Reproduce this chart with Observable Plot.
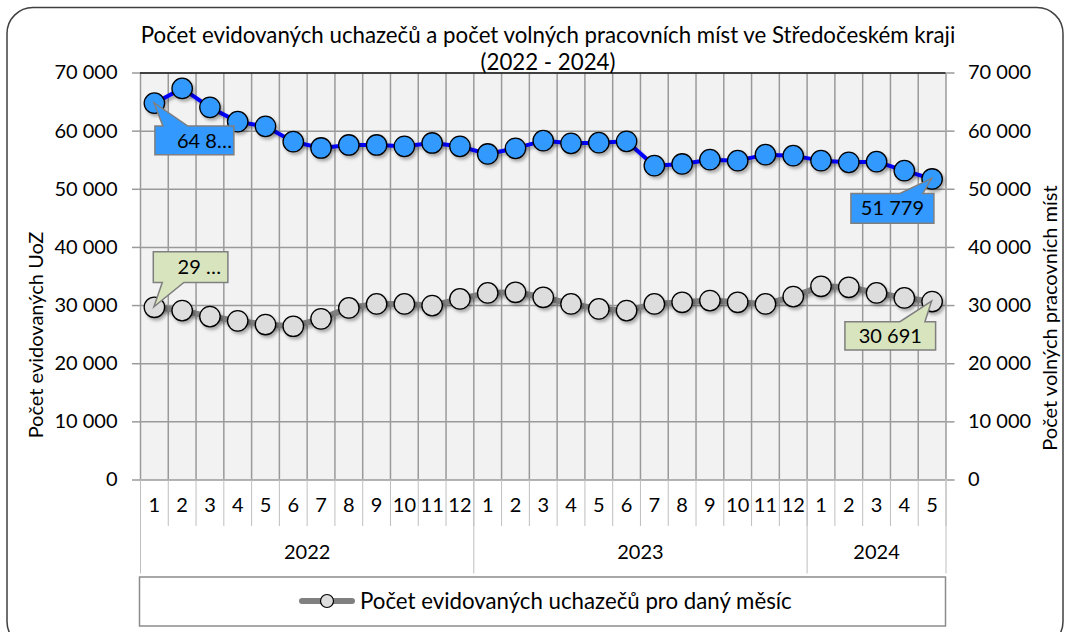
<!DOCTYPE html>
<html><head><meta charset="utf-8">
<script src="https://cdn.jsdelivr.net/npm/d3@7"></script>
<script src="https://cdn.jsdelivr.net/npm/@observablehq/plot@0.6"></script>
<style>
html,body{margin:0;padding:0;background:#fff;}
#chart{position:relative;width:1066px;height:632px;overflow:hidden;}
#chart svg{font-family:Lato,"Noto Sans",sans-serif;}
</style></head><body><div id="chart"></div>
<script>
// ---- data ----
const months = [1,2,3,4,5,6,7,8,9,10,11,12, 1,2,3,4,5,6,7,8,9,10,11,12, 1,2,3,4,5];
const years  = [2022,2022,2022,2022,2022,2022,2022,2022,2022,2022,2022,2022,
                2023,2023,2023,2023,2023,2023,2023,2023,2023,2023,2023,2023,
                2024,2024,2024,2024,2024];
const yearNames = [2022, 2023, 2024];
// Počet volných pracovních míst (blue)
const vacancies = [64812,67354,64088,61630,60823,58192,57108,57624,57624,57384,57968,57384,
                   56077,57040,58363,57900,58020,58243,54066,54358,55097,54925,55957,55785,
                   54925,54633,54754,53206,51779];
// Počet evidovaných uchazečů (grey)
const jobSeekers = [29706,29139,28107,27368,26732,26440,27712,29603,30290,30290,29998,31150,
                    32182,32285,31425,30290,29431,29139,30290,30565,30858,30565,30290,31545,
                    33316,33144,32182,31322,30691];
const yTicks = [0,10000,20000,30000,40000,50000,60000,70000];
const titleLines = ["Počet evidovaných uchazečů a počet volných pracovních míst ve Středočeském kraji", "(2022 - 2024)"];
const leftTitle = "Počet evidovaných UoZ";
const rightTitle = "Počet volných pracovních míst";
const legendLabel = "Počet evidovaných uchazečů pro daný měsíc";

// ---- helpers ----
const fmt = d3.formatLocale({decimal:",", thousands:"\u00a0", grouping:[3], currency:["",""]}).format(",d");
const rows = months.map((m,i)=>({i, x:i+0.5, month:m, year:years[i], vac:vacancies[i], seek:jobSeekers[i]}));
const yearGroups = yearNames.map(y => {
  const idx = rows.filter(r=>r.year===y).map(r=>r.i);
  return {year:y, start:d3.min(idx), end:d3.max(idx)+1};
});
const boundaries = d3.range(months.length+1);
const yearBounds = [0, ...yearGroups.map(g=>g.end)];

const W=1066, H=632, mL=140, mR=120.5, mT=72.5, mB=152.5;
const FS = 20;

const plot = Plot.plot({
  width: W, height: H,
  marginLeft: mL, marginRight: mR, marginTop: mT, marginBottom: mB,
  style: {fontFamily: "Lato, 'Noto Sans', sans-serif", fontSize: FS+"px", background: "transparent", overflow: "visible", color:"#000"},
  x: {type: "linear", domain: [0, months.length], axis: null},
  y: {domain: [0, 70000], axis: null},
  marks: [
    Plot.frame({fill: "#f2f2f2", stroke: null}),
    Plot.ruleY(yTicks, {stroke: "#9a9a9a", strokeWidth: 1.5}),
    Plot.ruleX(boundaries, {stroke: "#9a9a9a", strokeWidth: 1.5}),
    Plot.ruleY([70000], {stroke: "#1a1a1a", strokeWidth: 1.5}),
    Plot.axisY({anchor: "left", ticks: yTicks, tickFormat: fmt, tickSize: 8, tickPadding: 15, fontSize: FS, label: null}),
    Plot.axisY({anchor: "right", ticks: yTicks, tickFormat: fmt, tickSize: 8, tickPadding: 14, fontSize: FS, label: null}),
    Plot.ruleX(boundaries, {y1: () => 0, y2: () => 0, insetBottom: -46.5, stroke: "#bfbfbf", strokeWidth: 1}),
    Plot.ruleX(yearBounds, {y1: () => 0, y2: () => 0, insetBottom: -94, stroke: "#bfbfbf", strokeWidth: 1}),
    Plot.text(rows, {x: "x", text: d => String(d.month), frameAnchor: "bottom", dy: 31.5, fontSize: FS, fill: "#000"}),
    Plot.text(yearGroups, {x: d => (d.start + d.end) / 2, text: d => String(d.year), frameAnchor: "bottom", dy: 78.5, fontSize: FS, fill: "#000"}),
    Plot.line(rows, {x: "x", y: "seek", stroke: "#808080", strokeWidth: 6}),
    Plot.dot(rows, {x: "x", y: "seek", r: 10.2, fill: "#dddddd", stroke: "#000", strokeWidth: 1.3}),
    Plot.line(rows, {x: "x", y: "vac", stroke: "#0000ff", strokeWidth: 4}),
    Plot.dot(rows, {x: "x", y: "vac", r: 10.2, fill: "#3399ff", stroke: "#000", strokeWidth: 1.3})
  ]
});
document.getElementById("chart").appendChild(plot);

const svg = d3.select(plot);
svg.selectAll('g[aria-label="y-axis tick"]').attr("stroke", "#9a9a9a").attr("stroke-width", 1.5);

// drop shadow for series
const defs = svg.insert("defs", ":first-child");
const f = defs.append("filter").attr("id", "shadow").attr("x", "-20%").attr("y", "-20%").attr("width", "140%").attr("height", "140%");
f.append("feDropShadow").attr("dx", 2).attr("dy", 2.5).attr("stdDeviation", 1.6).attr("flood-color", "#000").attr("flood-opacity", 0.3);
svg.selectAll('g[aria-label="line"], g[aria-label="dot"]').attr("filter", "url(#shadow)");

const xs = plot.scale("x"), ys = plot.scale("y");

// ---- callouts ----
const callouts = [
  {series: "vac", index: 0, keep: 4, fill: "#3399ff", box: [1, 23.4, 79, 28.6], side: "top", ptr: [9, 34], anchor: "end", tx: -2},
  {series: "vac", index: months.length-1, keep: null, fill: "#3399ff", box: [-80.7, 15, 83, 29.7], side: "top", ptr: [-31.7, -8.7], anchor: "middle", tx: 0},
  {series: "seek", index: 0, keep: 3, fill: "#d7e4bd", box: [-0.6, -55, 74.6, 30.6], side: "bottom", ptr: [8.4, 30], anchor: "end", tx: -7},
  {series: "seek", index: months.length-1, keep: null, fill: "#d7e4bd", box: [-86.7, 20.6, 90.7, 28.4], side: "top", ptr: [-31.7, -6.7], anchor: "middle", tx: 0}
];
const cg = svg.append("g");
for (const c of callouts) {
  const r = rows[c.index];
  const v = r[c.series];
  const px = xs.apply(r.x), py = ys.apply(v);
  const [bx, by, bw, bh] = c.box;
  const x0 = bx, x1 = bx + bw, y0 = by, y1 = by + bh;
  const [p0, p1] = c.ptr;
  let d;
  if (c.side === "top") d = `M${x0},${y0}L${p0},${y0}L0,0L${p1},${y0}L${x1},${y0}L${x1},${y1}L${x0},${y1}Z`;
  else d = `M${x0},${y0}L${x1},${y0}L${x1},${y1}L${p1},${y1}L0,0L${p0},${y1}L${x0},${y1}Z`;
  const g = cg.append("g").attr("transform", `translate(${px},${py})`);
  g.append("path").attr("d", d).attr("fill", c.fill).attr("stroke", "#7f7f7f").attr("stroke-width", 1.5).attr("stroke-linejoin", "miter");
  let label = fmt(v);
  if (c.keep != null) label = label.slice(0, c.keep) + "…";
  const tx = c.anchor === "end" ? x1 + c.tx : (x0 + x1) / 2;
  g.append("text").attr("x", tx).attr("y", (y0 + y1) / 2).attr("dy", "0.36em")
    .attr("text-anchor", c.anchor).attr("font-size", FS).attr("fill", "#000").text(label);
}

// ---- title ----
const tg = svg.append("g").attr("fill", "#000");
const t1 = tg.append("text").attr("x", 548).attr("y", 43).attr("text-anchor", "middle").attr("font-size", FS).text(titleLines[0]);
const len1 = t1.node().getComputedTextLength();
const titleFS = FS * 815 / len1;
t1.attr("font-size", titleFS);
tg.append("text").attr("x", 548).attr("y", 70).attr("text-anchor", "middle").attr("font-size", titleFS).text(titleLines[1]);

// ---- axis titles ----
svg.append("text").attr("transform", "translate(36,335) rotate(-90)").attr("text-anchor", "middle").attr("dy", "0.35em")
  .attr("font-size", FS).attr("fill", "#000").text(leftTitle);
svg.append("text").attr("transform", "translate(1050,318) rotate(-90)").attr("text-anchor", "middle").attr("dy", "0.35em")
  .attr("font-size", FS).attr("fill", "#000").text(rightTitle);

// ---- legend ----
const lg = svg.append("g");
lg.append("rect").attr("x", 139.5).attr("y", 577).attr("width", 806).attr("height", 49)
  .attr("fill", "#fff").attr("stroke", "#8c8c8c").attr("stroke-width", 1.5);
lg.append("line").attr("x1", 302).attr("x2", 352).attr("y1", 601).attr("y2", 601)
  .attr("stroke", "#808080").attr("stroke-width", 6).attr("stroke-linecap", "round");
lg.append("circle").attr("cx", 327).attr("cy", 601).attr("r", 6.5).attr("fill", "#dddddd").attr("stroke", "#000").attr("stroke-width", 1.2);
const lt = lg.append("text").attr("x", 360).attr("y", 601).attr("dy", "0.35em").attr("text-anchor", "start")
  .attr("font-size", FS).attr("fill", "#000").text(legendLabel);
const llen = lt.node().getComputedTextLength();
lt.attr("font-size", FS * 432 / llen);

// ---- outer rounded border ----
svg.append("rect").attr("x", 7).attr("y", 7.5).attr("width", 1056).attr("height", 640).attr("rx", 26)
  .attr("fill", "none").attr("stroke", "#404040").attr("stroke-width", 1.5);
</script>
</body></html>
